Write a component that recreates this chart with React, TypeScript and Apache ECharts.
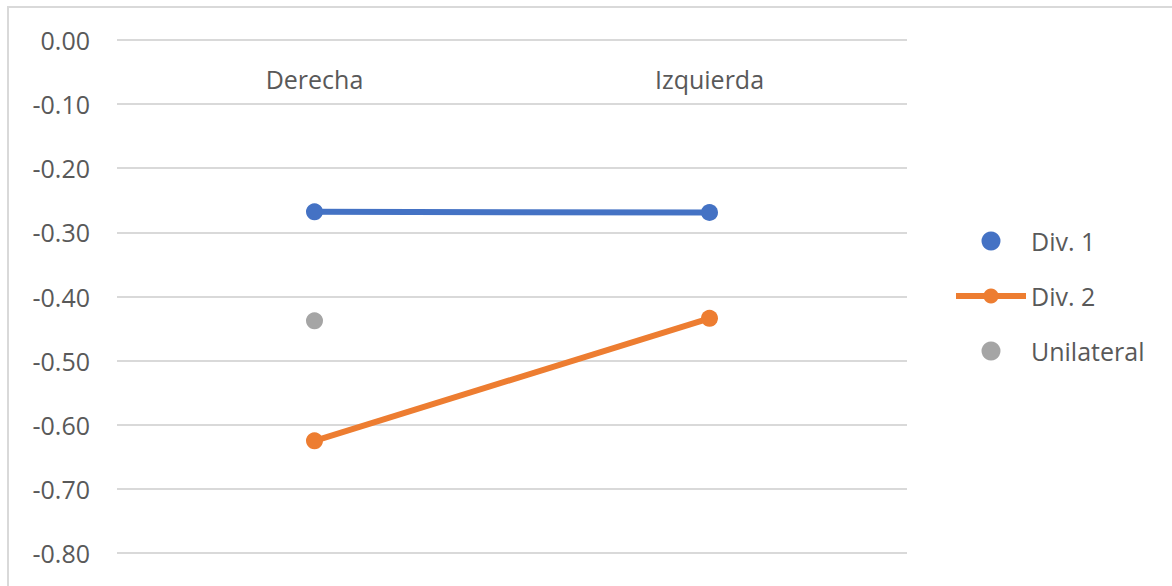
import React, { useEffect, useRef } from "react";
import * as echarts from "echarts";

const categories = ["Derecha", "Izquierda"];
const div1 = [-0.268, -0.269];
const div2 = [-0.625, -0.434];
const unilateral = [-0.438, null];
const seriesNames = ["Div. 1", "Div. 2", "Unilateral"];
const colors = ["#4472C4", "#ED7D31", "#A5A5A5"];

const FONT = "'Open Sans', 'Noto Sans', sans-serif";
const TEXT = "#595959";

export default function App() {
  const ref = useRef<HTMLDivElement>(null);
  useEffect(() => {
    if (!ref.current) return;
    const chart = echarts.init(ref.current, null, { renderer: "svg" });
    chart.setOption({
      animation: false,
      backgroundColor: "#ffffff",
      textStyle: { fontFamily: FONT },
      grid: { left: 117, right: 265, top: 40, bottom: 33 },
      xAxis: {
        type: "category",
        data: categories,
        position: "top",
        boundaryGap: true,
        axisLine: { show: false },
        axisTick: { show: false },
        axisLabel: { inside: true, margin: 26, fontSize: 25, color: TEXT, fontFamily: FONT },
        splitLine: { show: false },
      },
      yAxis: {
        type: "value",
        min: -0.8,
        max: 0,
        interval: 0.1,
        axisLine: { show: false },
        axisTick: { show: false },
        axisLabel: {
          fontSize: 25,
          color: TEXT,
          margin: 27,
          fontFamily: FONT,
          formatter: (v: number) => (Math.abs(v) < 1e-9 ? "0.00" : v.toFixed(2)),
        },
        splitLine: { lineStyle: { color: "#d9d9d9", width: 2 } },
      },
      legend: {
        orient: "vertical",
        left: 948,
        top: 223,
        itemWidth: 70,
        itemHeight: 19,
        itemGap: 29,
        textStyle: { fontSize: 25, color: TEXT, lineHeight: 26, fontFamily: FONT },
        data: [
          { name: seriesNames[0], icon: "circle" },
          { name: seriesNames[1], lineStyle: { width: 6 } },
          { name: seriesNames[2], icon: "circle" },
        ],
      },
      graphic: [
        { type: "line", shape: { x1: 7, y1: 7, x2: 1172, y2: 7 }, style: { stroke: "#d9d9d9", lineWidth: 2 } },
        { type: "line", shape: { x1: 8, y1: 7, x2: 8, y2: 586 }, style: { stroke: "#d9d9d9", lineWidth: 2 } },
      ],
      series: [
        {
          name: seriesNames[0],
          type: "line",
          data: div1,
          symbol: "circle",
          symbolSize: 17,
          itemStyle: { color: colors[0] },
          lineStyle: { color: colors[0], width: 6 },
        },
        {
          name: seriesNames[1],
          type: "line",
          data: div2,
          symbol: "circle",
          symbolSize: 17,
          itemStyle: { color: colors[1] },
          lineStyle: { color: colors[1], width: 6 },
        },
        {
          name: seriesNames[2],
          type: "line",
          data: unilateral,
          symbol: "circle",
          symbolSize: 17,
          showAllSymbol: true,
          connectNulls: false,
          itemStyle: { color: colors[2] },
          lineStyle: { color: colors[2], width: 6 },
        },
      ],
    });
    return () => chart.dispose();
  }, []);
  return (
    <div
      ref={ref}
      style={{ position: "absolute", left: 0, top: 0, width: 1172, height: 586 }}
    />
  );
}
